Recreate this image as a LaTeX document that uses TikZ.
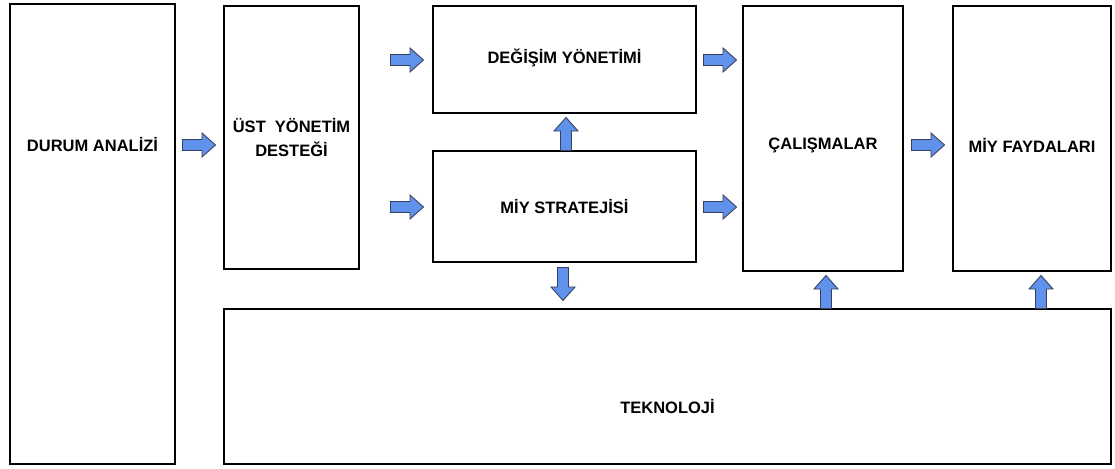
\documentclass[tikz,border=0pt]{standalone}
\usepackage{fontspec}
\setmainfont{Liberation Sans}
\definecolor{arrfill}{RGB}{96,146,236}
\definecolor{arrdraw}{RGB}{55,65,95}
\tikzset{
  box/.style={draw=black, line width=2pt, fill=white},
  lbl/.style={font=\bfseries\fontsize{16.5}{19}\selectfont, align=center, inner sep=0pt},
  blkarrow/.pic={
    \path[draw=arrdraw, fill=arrfill, line width=0.9pt, line join=miter]
      (-16.5,-5.5) -- (3,-5.5) -- (3,-12) -- (16.5,0) -- (3,12) -- (3,5.5) -- (-16.5,5.5) -- cycle;
  },
}
\begin{document}
\begin{tikzpicture}[x=1pt,y=-1pt]
\useasboundingbox (0,0) rectangle (1115,468);
% boxes
\draw[box] (10,4) rectangle (175,464);
\draw[box] (224,6) rectangle (359,269);
\draw[box] (433,6) rectangle (696,113);
\draw[box] (433,151) rectangle (696,262);
\draw[box] (743,6) rectangle (903,271);
\draw[box] (953,6) rectangle (1111,271);
\draw[box] (224,309) rectangle (1111,464);
% labels
\node[lbl] (tDurum) at (92.5,145) {DURUM ANALİZİ};
\node[lbl] (tUst) at (291.5,138) {ÜST\ \ YÖNETİM\\[5pt]DESTEĞİ};
\node[lbl] (tDeg) at (564.5,58) {DEĞİŞİM YÖNETİMİ};
\node[lbl] (tMiy) at (564.5,207) {MİY STRATEJİSİ};
\node[lbl] (tCal) at (823,145) {ÇALIŞMALAR};
\node[lbl] (tFay) at (1032,145) {MİY FAYDALARI};
\node[lbl] (tTek) at (667.5,407) {TEKNOLOJİ};
% block arrows
\pic (a1) at (199,145) {blkarrow};
\pic (a2) at (407,60) {blkarrow};
\pic (a3) at (407,207) {blkarrow};
\pic (a4) at (720,60) {blkarrow};
\pic (a5) at (720,207) {blkarrow};
\pic (a6) at (928,145) {blkarrow};
\pic[rotate=90] (a7) at (566,134) {blkarrow};
\pic[rotate=-90] (a8) at (563,284) {blkarrow};
\pic[rotate=90] (a9) at (826,292) {blkarrow};
\pic[rotate=90] (a10) at (1041,292) {blkarrow};
\end{tikzpicture}
\end{document}
